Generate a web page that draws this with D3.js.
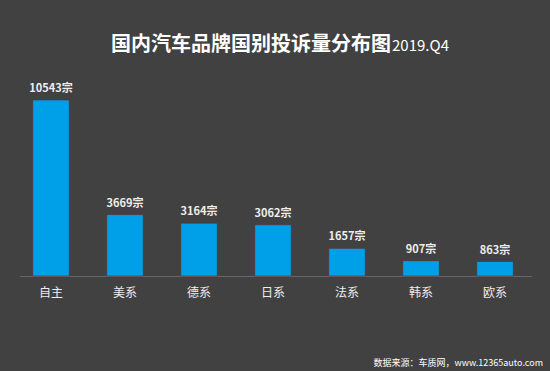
<!DOCTYPE html>
<html><head><meta charset="utf-8">
<script src="https://cdn.jsdelivr.net/npm/d3@7"></script>
<style>body{margin:0;background:#414141;}svg{display:block;}</style>
</head><body>
<svg id="c" width="550" height="371"></svg>
<script>
const categories = ["自主","美系","德系","日系","法系","韩系","欧系"];
const values = [10543,3669,3164,3062,1657,907,863];
const unit = "宗";

const svg = d3.select("#c");
const W = 550, H = 371;
svg.append("rect").attr("width",W).attr("height",H).attr("fill","#414141");
const font = "'Noto Sans CJK SC','Microsoft YaHei',sans-serif";

const x = d3.scaleBand().domain(categories).range([14,532]).paddingInner(0.51).paddingOuter(0.255);
const y = d3.scaleLinear().domain([0,10543]).range([276,100]);

// title
const t = svg.append("text").attr("x",280).attr("y",51).attr("text-anchor","middle")
  .attr("fill","#fff").style("font-family",font);
t.append("tspan").text("国内汽车品牌国别投诉量分布图").attr("font-size",20).attr("font-weight","bold");
t.append("tspan").text("2019.Q4").attr("font-size",15).attr("dx",1);

// axis
const ax = svg.append("g").attr("transform","translate(0,276)")
  .call(d3.axisBottom(x).tickSize(0).tickPadding(12));
ax.select(".domain").attr("stroke","#666").attr("d","M20,0.5H532");
ax.selectAll("text").attr("fill","#eee").attr("font-size",12).style("font-family",font);

// bars
svg.selectAll("rect.bar").data(values).join("rect").attr("class","bar")
  .attr("x",(d,i)=>x(categories[i])).attr("width",x.bandwidth())
  .attr("y",d=>y(d)).attr("height",d=>276-y(d))
  .attr("fill","#00A0E9").attr("stroke","#5a3530").attr("stroke-width",0.6);

svg.selectAll("text.val").data(values).join("text").attr("class","val")
  .attr("x",(d,i)=>x(categories[i])+x.bandwidth()/2).attr("y",d=>y(d)-8)
  .attr("text-anchor","middle").attr("fill","#eee").attr("font-size",11).attr("font-weight","600")
  .style("font-family",font).text(d=>d+unit);

svg.append("text").attr("x",543).attr("y",366).attr("text-anchor","end")
  .attr("fill","#fff").attr("font-size",9).style("font-family",font)
  .text("数据来源：车质网，www.12365auto.com");
</script>
</body></html>
